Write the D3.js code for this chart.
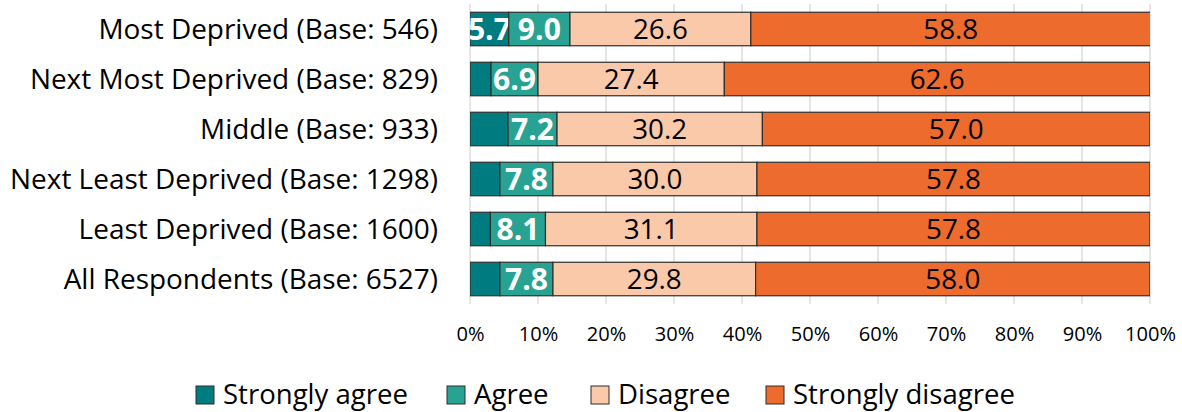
<!DOCTYPE html>
<html>
<head>
<meta charset="utf-8">
<script src="https://cdn.jsdelivr.net/npm/d3@7"></script>
<style>
  html, body { margin: 0; padding: 0; background: #ffffff; }
  svg { display: block; font-family: "Open Sans", "Noto Sans", sans-serif; }
</style>
</head>
<body>
<svg id="chart" width="1182" height="412"></svg>
<script>
// Groups (deprivation quintiles) with survey base sizes
const categories = [
  "Most Deprived (Base: 546)",
  "Next Most Deprived (Base: 829)",
  "Middle (Base: 933)",
  "Next Least Deprived (Base: 1298)",
  "Least Deprived (Base: 1600)",
  "All Respondents (Base: 6527)"
];

// Response shares (%) per group
const stronglyAgree    = [5.7, 3.1, 5.6, 4.4, 3.0, 4.4];
const agree            = [9.0, 6.9, 7.2, 7.8, 8.1, 7.8];
const disagree         = [26.6, 27.4, 30.2, 30.0, 31.1, 29.8];
const stronglyDisagree = [58.8, 62.6, 57.0, 57.8, 57.8, 58.0];

// Only the first group's "Strongly agree" share carries a value label
const stronglyAgreeLabelled = [true, false, false, false, false, false];

const seriesNames = ["Strongly agree", "Agree", "Disagree", "Strongly disagree"];
const seriesColors = ["#007b80", "#28a293", "#f9c9aa", "#ec6b2d"];
const tickValues = [0, 10, 20, 30, 40, 50, 60, 70, 80, 90, 100];

const seriesValues = [stronglyAgree, agree, disagree, stronglyDisagree];
const rows = categories.map((c, i) => {
  const r = { category: c };
  seriesNames.forEach((s, k) => { r[s] = seriesValues[k][i]; });
  return r;
});

const svg = d3.select("#chart");
const W = 1182, H = 412;
const margin = { left: 470, right: 32, top: 4, bottom: 108 };
const FONT = "'Open Sans', 'Noto Sans', sans-serif";

// Pick a font size so that a sample string renders at the wanted width
function fitSize(sample, weight, width) {
  const t = svg.append("text")
    .attr("font-family", FONT).attr("font-size", 100).attr("font-weight", weight)
    .text(sample);
  const w = t.node().getComputedTextLength();
  t.remove();
  return 100 * width / w;
}
const catSize    = fitSize("Next Least Deprived (Base: 1298)", 400, 428);
const tickSize   = fitSize("100%", 400, 51);
const valSize    = fitSize("26.6", 400, 55);
const valBold    = fitSize("9.0", 700, 43);
const legendSize = fitSize("Strongly agree", 400, 185);

const x = d3.scaleLinear().domain([0, 100]).range([margin.left, W - margin.right]);
const y = d3.scaleBand().domain(categories)
  .range([margin.top, H - margin.bottom]).paddingInner(0.33).paddingOuter(0.165);

// Vertical gridlines
svg.append("g")
  .selectAll("line")
  .data(tickValues)
  .join("line")
  .attr("x1", d => x(d)).attr("x2", d => x(d))
  .attr("y1", margin.top).attr("y2", H - margin.bottom)
  .attr("stroke", "#d9d9d9").attr("stroke-width", 1.3);

// Stack the four response series
const stack = d3.stack().keys(seriesNames)(rows);

svg.append("clipPath").attr("id", "plotClip")
  .append("rect")
  .attr("x", x(0)).attr("y", 0)
  .attr("width", x(100) - x(0)).attr("height", H);

const layers = svg.append("g").attr("clip-path", "url(#plotClip)")
  .selectAll("g.layer")
  .data(stack)
  .join("g")
  .attr("class", "layer")
  .attr("fill", (d, k) => seriesColors[k]);

layers.selectAll("rect")
  .data(d => d)
  .join("rect")
  .attr("x", p => x(p[0]))
  .attr("y", p => y(p.data.category))
  .attr("width", p => x(p[1]) - x(p[0]))
  .attr("height", y.bandwidth())
  .attr("stroke", "#2f2f2f")
  .attr("stroke-width", 1.2);

// Value labels (white bold on the agree shades, black on the disagree shades)
layers.selectAll("text")
  .data((d, k) => d.map((p, i) => ({ p, k, i }))
    .filter(e => e.k !== 0 || stronglyAgreeLabelled[e.i]))
  .join("text")
  .attr("x", d => x((d.p[0] + d.p[1]) / 2))
  .attr("y", d => y(d.p.data.category) + y.bandwidth() / 2)
  .attr("dy", "0.36em")
  .attr("text-anchor", "middle")
  .attr("font-family", FONT)
  .attr("font-size", d => d.k < 2 ? valBold : valSize)
  .attr("font-weight", d => d.k < 2 ? 700 : 400)
  .attr("fill", d => d.k < 2 ? "#ffffff" : "#000000")
  .text(d => seriesValues[d.k][d.i].toFixed(1));

// Category axis
const yAxis = svg.append("g")
  .attr("transform", `translate(${x(0) - 32},0)`)
  .call(d3.axisLeft(y).tickSize(0).tickPadding(0));
yAxis.select(".domain").remove();
yAxis.selectAll("text")
  .attr("font-size", catSize)
  .attr("font-family", FONT)
  .attr("fill", "#000")
  .attr("dy", "0.36em");

// Percentage axis
const xAxis = svg.append("g")
  .attr("transform", `translate(0,${H - margin.bottom})`)
  .call(d3.axisBottom(x).tickValues(tickValues).tickFormat(d => d + "%").tickSize(0).tickPadding(0));
xAxis.select(".domain").remove();
xAxis.selectAll("text")
  .attr("y", 30)
  .attr("dy", "0.36em")
  .attr("font-size", tickSize)
  .attr("font-family", FONT)
  .attr("fill", "#000");

// Legend
const legendX = [196, 447, 591, 766];
const legend = svg.append("g")
  .selectAll("g")
  .data(seriesNames)
  .join("g")
  .attr("transform", (d, k) => `translate(${legendX[k]},395)`);
legend.append("rect")
  .attr("x", 0).attr("y", -9)
  .attr("width", 18).attr("height", 18)
  .attr("fill", (d, k) => seriesColors[k])
  .attr("stroke", "#2f2f2f").attr("stroke-width", 1);
legend.append("text")
  .attr("x", 27).attr("y", 9)
  .attr("font-size", legendSize)
  .attr("font-family", FONT)
  .attr("fill", "#000")
  .text(d => d);
</script>
</body>
</html>
